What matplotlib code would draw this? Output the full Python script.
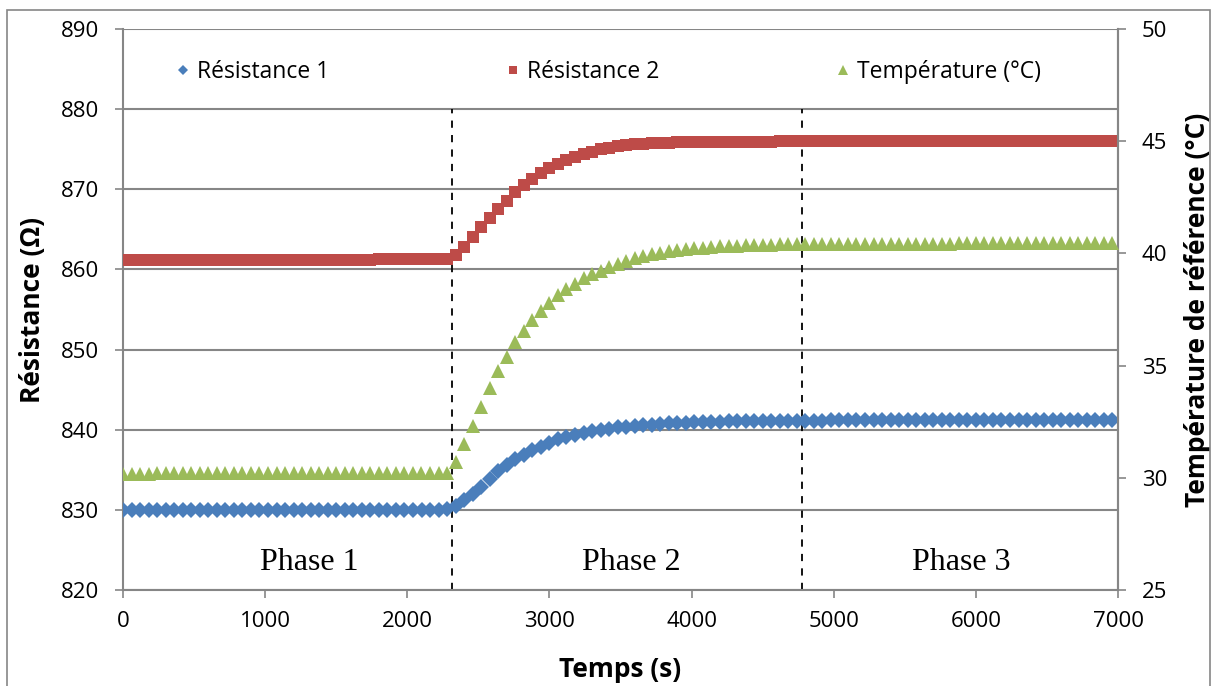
import numpy as np
import matplotlib
matplotlib.use('Agg')
import matplotlib.pyplot as plt
from matplotlib.patches import Rectangle

plt.rcParams['font.family'] = ['Open Sans', 'DejaVu Sans']

# Temps d'acquisition (s), un point toutes les 60 s
temps = np.arange(0, 7000, 60)

# Résistance 1 (Ohm)
resistance_1 = [
    829.95, 830.0, 830.0, 830.0, 830.0, 830.0, 830.0, 830.0, 830.0, 830.0,
    830.0, 830.0, 830.0, 830.0, 830.0, 830.0, 830.0, 830.0, 830.0, 830.0,
    830.0, 830.0, 830.0, 830.0, 830.0, 830.0, 830.0, 830.0, 830.0, 830.0,
    830.0, 830.0, 830.0, 830.0, 830.0, 830.0, 830.0, 830.0, 830.05,
    830.5, 831.2, 832.0, 832.8, 833.8, 834.8, 835.6, 836.3, 836.9, 837.5,
    837.9, 838.4, 838.8, 839.1, 839.4, 839.6, 839.8, 840.0, 840.15, 840.3,
    840.4, 840.5, 840.6, 840.65, 840.7, 840.8, 840.85, 840.9, 840.93, 841.0,
    841.0, 841.02, 841.05, 841.05, 841.07, 841.08, 841.1, 841.1, 841.1, 841.12,
    841.12, 841.13, 841.13, 841.14, 841.15, 841.15, 841.15, 841.16, 841.16, 841.17,
    841.17, 841.17, 841.18, 841.18, 841.18, 841.18, 841.19, 841.19, 841.19, 841.19,
    841.2, 841.2, 841.2, 841.2, 841.2, 841.2, 841.2, 841.2, 841.2, 841.2,
    841.2, 841.2, 841.2, 841.2, 841.2, 841.2, 841.2, 841.2,
]

# Résistance 2 (Ohm)
resistance_2 = [
    861.2, 861.2, 861.2, 861.2, 861.2, 861.2, 861.2, 861.2, 861.2, 861.2,
    861.2, 861.2, 861.2, 861.2, 861.2, 861.2, 861.2, 861.2, 861.2, 861.2,
    861.22, 861.22, 861.22, 861.22, 861.22, 861.22, 861.22, 861.22, 861.22, 861.22,
    861.24, 861.24, 861.24, 861.24, 861.24, 861.24, 861.24, 861.24, 861.3,
    861.8, 862.8, 864.0, 865.3, 866.4, 867.5, 868.6, 869.6, 870.5, 871.3,
    872.0, 872.6, 873.2, 873.7, 874.0, 874.4, 874.7, 875.0, 875.2, 875.4,
    875.5, 875.6, 875.7, 875.75, 875.8,
    875.82, 875.85, 875.87, 875.88, 875.9, 875.9, 875.92, 875.93, 875.94, 875.95,
    875.95, 875.96, 875.96, 875.97, 875.97, 875.98, 875.98, 875.98, 875.99, 875.99,
    876.0, 876.0, 876.0, 876.0, 876.0, 876.0, 876.0, 876.0, 876.0, 876.0,
    876.0, 876.0, 876.0, 876.0, 876.0, 876.0, 876.0, 876.0, 876.0, 876.0,
    876.0, 876.0, 876.0, 876.0, 876.0, 876.0, 876.0, 876.0, 876.0, 876.0,
    876.0, 876.0, 876.0,
]

# Température de référence (°C)
temperature = [
    30.15, 30.15, 30.15, 30.15, 30.2, 30.2, 30.2, 30.2, 30.2, 30.2,
    30.2, 30.2, 30.2, 30.2, 30.2, 30.2, 30.2, 30.2, 30.2, 30.2,
    30.2, 30.2, 30.2, 30.2, 30.2, 30.2, 30.2, 30.2, 30.2, 30.2,
    30.22, 30.22, 30.22, 30.22, 30.22, 30.22, 30.22, 30.22, 30.22,
    30.7, 31.5, 32.3, 33.15, 34.0, 34.75, 35.4, 36.05, 36.55, 37.05,
    37.45, 37.8, 38.15, 38.4, 38.65, 38.9, 39.08, 39.22, 39.38, 39.52,
    39.65, 39.78, 39.88, 39.97, 40.03, 40.1, 40.15, 40.19, 40.23, 40.26,
    40.29, 40.31, 40.33, 40.35, 40.36, 40.37, 40.38, 40.39, 40.4,
    40.4, 40.4, 40.41, 40.41, 40.41, 40.42, 40.42, 40.42, 40.42, 40.43,
    40.43, 40.43, 40.43, 40.43, 40.44, 40.44, 40.44, 40.44, 40.44, 40.44,
    40.45, 40.45, 40.45, 40.45, 40.45, 40.45, 40.45, 40.45, 40.45, 40.45,
    40.45, 40.45, 40.45, 40.45, 40.45, 40.45, 40.45, 40.45, 40.45,
]

# Limites des phases (s)
limites_phases = [2315, 4777]
noms_phases = ['Phase 1', 'Phase 2', 'Phase 3']
centres_phases = [1310, 3575, 5895]

gris = '#868686'

fig = plt.figure(figsize=(12.15, 6.86), dpi=100)
ax = fig.add_axes([123 / 1215, 1 - 590 / 686, 995 / 1215, 561 / 686])
ax2 = ax.twinx()

# cadre gris autour de la figure
fig.patches.append(Rectangle((7 / 1215, -0.02), 1203 / 1215, 1 - 10 / 686 + 0.02,
                             transform=fig.transFigure, fill=False,
                             edgecolor=gris, linewidth=1.2))

l1, = ax.plot(temps, resistance_1, linestyle='none', marker='D', markersize=8.3,
              markeredgewidth=0, color='#4A7EBB', label='Résistance 1', zorder=3)
l2, = ax.plot(temps, resistance_2, linestyle='none', marker='s', markersize=8.8,
              markeredgewidth=0, color='#BE4B48', label='Résistance 2', zorder=3)
l3, = ax2.plot(temps, temperature, linestyle='none', marker='^', markersize=10.5,
               markeredgewidth=0, color='#9BBB59', label='Température (°C)', zorder=3)

# lignes de séparation des phases
ax.vlines(limites_phases, 820, 880, colors='black', linestyles=(0, (4, 4)),
          linewidth=1.3, zorder=2)
for nom, xc in zip(noms_phases, centres_phases):
    ax.text(xc, 823.4, nom, ha='center', va='center', fontsize=23,
            family=['Liberation Serif', 'DejaVu Serif'])

ax.set_xlim(0, 7000)
ax.set_ylim(820, 890)
ax2.set_ylim(25, 50)
ax.set_xticks(range(0, 7001, 1000))
ax.set_yticks(range(820, 891, 10))
ax2.set_yticks(range(25, 51, 5))

ax.grid(axis='y', color=gris, linewidth=1.5)
ax.set_axisbelow(True)
for a in (ax, ax2):
    a.spines['top'].set_visible(False)
    for s in ('left', 'right', 'bottom'):
        a.spines[s].set_color(gris)
        a.spines[s].set_linewidth(1.5)
    a.tick_params(direction='out', length=6, width=1.2, color=gris,
                  labelsize=16, pad=11)
ax.tick_params(axis='x', pad=9)
ax2.spines['left'].set_visible(False)
ax2.spines['bottom'].set_visible(False)

ax.set_xlabel('Temps (s)', fontsize=19, fontweight='bold')
ax.set_ylabel('Résistance (Ω)', fontsize=19, fontweight='bold')
ax2.set_ylabel('Température de référence (°C)', fontsize=19, fontweight='bold')
ax.xaxis.set_label_coords(0.4995, -0.1426)
ax.yaxis.set_label_coords(-0.0905, 0.5)
ax2.yaxis.set_label_coords(1.0804, 0.5)
ax.xaxis.label.set_va('center')
ax.yaxis.label.set_va('center')
ax2.yaxis.label.set_va('center')

ax2.legend(handles=[l1, l2, l3], loc='center left', ncol=3,
           bbox_to_anchor=(0.0533, 0.9234), borderpad=0, borderaxespad=0,
           frameon=False, fontsize=16.5, markerscale=0.62, handlelength=0.6,
           handletextpad=0.32, columnspacing=7.7)

plt.savefig('out.png', dpi=100)
